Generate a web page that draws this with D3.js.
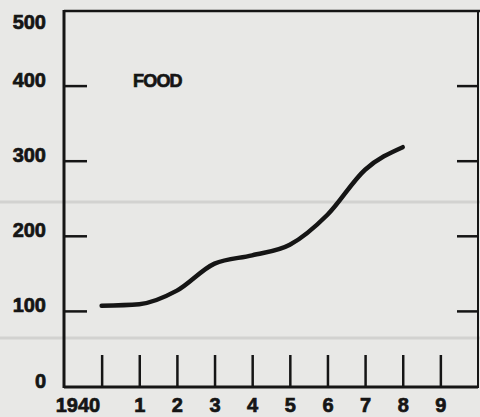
<!DOCTYPE html>
<html>
<head>
<meta charset="utf-8">
<script src="https://cdn.jsdelivr.net/npm/d3@7"></script>
<style>
  html, body { margin: 0; padding: 0; background: #e8e8e6; }
  svg { display: block; }
  text { font-family: "Liberation Sans", Arial, sans-serif; font-weight: bold; fill: #151515; stroke: #151515; stroke-width: 0.7px; }
</style>
</head>
<body>
<div id="chart"></div>
<script>
// data
var years = [1940, 1941, 1942, 1943, 1944, 1945, 1946, 1947, 1948]
var food = [107, 109, 127, 163, 174, 188, 228, 288, 318]
var xTicks = [1940, 1941, 1942, 1943, 1944, 1945, 1946, 1947, 1948, 1949]
var yLabels = [0, 100, 200, 300, 400, 500]
var yTicks = [100, 200, 300, 400]
var seriesName = "FOOD"

var width = 480, height = 417
var ink = "#151515"

var svg = d3.select("#chart").append("svg")
  .attr("width", width)
  .attr("height", height)

var x = d3.scaleLinear().domain([1939, 1950]).range([64, 478])
var y = d3.scaleLinear().domain([0, 500]).range([386, 10.5])

// faint fold marks of the scanned sheet
svg.append("g")
  .selectAll("line")
  .data([202, 338])
  .enter().append("line")
  .attr("x1", 0).attr("x2", width)
  .attr("y1", d => d).attr("y2", d => d)
  .attr("stroke", "#d2d2d0")
  .attr("stroke-width", 3)

// frame
var frame = svg.append("g").attr("stroke", ink).attr("fill", "none")
frame.append("line").attr("x1", x.range()[0]).attr("x2", width)
  .attr("y1", 11).attr("y2", 11).attr("stroke-width", 2.5)
frame.append("line").attr("x1", x.range()[0]).attr("x2", x.range()[0])
  .attr("y1", 10).attr("y2", 388).attr("stroke-width", 3)
frame.append("line").attr("x1", x.range()[1]).attr("x2", x.range()[1])
  .attr("y1", 10).attr("y2", 388).attr("stroke-width", 2)
frame.append("line").attr("x1", x.range()[0]).attr("x2", x.range()[1])
  .attr("y1", 387).attr("y2", 387).attr("stroke-width", 3)

// inner ticks, left and right
var leftTicks = svg.append("g")
  .attr("transform", "translate(" + x.range()[0] + ",0)")
  .call(d3.axisRight(y).tickValues(yTicks).tickSize(23).tickFormat(""))
var rightTicks = svg.append("g")
  .attr("transform", "translate(" + x.range()[1] + ",0)")
  .call(d3.axisLeft(y).tickValues(yTicks).tickSize(21).tickFormat(""))
;[leftTicks, rightTicks].forEach(g => {
  g.select(".domain").remove()
  g.selectAll("line").attr("stroke", ink).attr("stroke-width", 2.5)
})

// y labels
var yAxis = svg.append("g")
  .attr("transform", "translate(" + x.range()[0] + ",0)")
  .call(d3.axisLeft(y).tickValues(yLabels).tickSize(0).tickPadding(18))
yAxis.select(".domain").remove()
yAxis.selectAll("text")
  .attr("font-size", 20)
  .attr("font-family", null)
  .attr("dy", 0)
  .attr("y", d => Math.max(y(d) + 1, 28) - y(d))
  .style("fill", ink)

// x ticks going up from the base
var xTickG = svg.append("g")
  .attr("transform", "translate(0,387)")
  .call(d3.axisTop(x).tickValues(xTicks).tickSize(32).tickFormat(""))
xTickG.select(".domain").remove()
xTickG.selectAll("line").attr("stroke", ink).attr("stroke-width", 2.5)

// x labels
var xAxis = svg.append("g")
  .attr("transform", "translate(0,387)")
  .call(d3.axisBottom(x).tickValues(xTicks).tickSize(0).tickPadding(11)
    .tickFormat(d => d === 1940 ? "1940" : String(d % 10)))
xAxis.select(".domain").remove()
xAxis.selectAll("text")
  .attr("font-size", 20)
  .attr("font-family", null)
  .attr("text-anchor", d => d === 1940 ? "end" : "middle")
  .attr("x", d => d === 1940 ? -2 : 0)
  .style("fill", ink)

// series
var line = d3.line()
  .x((d, i) => x(years[i]))
  .y(d => y(d))
  .curve(d3.curveMonotoneX)

svg.append("path")
  .datum(food)
  .attr("d", line)
  .attr("fill", "none")
  .attr("stroke", ink)
  .attr("stroke-width", 4.5)
  .attr("stroke-linecap", "round")
  .attr("stroke-linejoin", "round")

svg.append("text")
  .attr("x", 133)
  .attr("y", 87)
  .attr("font-size", 18)
  .attr("letter-spacing", -0.8)
  .text(seriesName)
</script>
</body>
</html>
